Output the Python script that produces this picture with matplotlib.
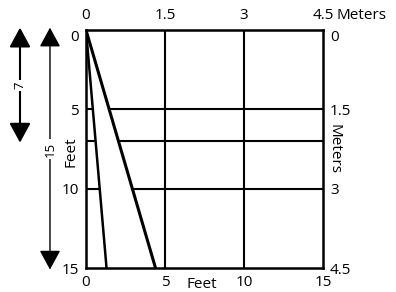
import matplotlib
matplotlib.use("Agg")
from matplotlib import pyplot as plt
from matplotlib.ticker import FixedLocator, FixedFormatter

plt.rcParams["font.family"] = ["Open Sans", "DejaVu Sans"]
plt.rcParams["font.size"] = 11

# depth/width scale in feet, with metre labels on the opposite sides
feet_ticks = [0, 5, 10, 15]
feet_labels = ["0", "5", "10", "15"]
meter_ticks = [0, 1.5, 3, 4.5]
meter_labels = ["0", "1.5", "3", "4.5"]
ft_per_m = 5 / 1.5

# two slope lines from the top-left corner down to 15 ft deep
depth = [0, 15]
thin_line_x = [0, 1.3]
thick_line_x = [0, 4.4]

# horizontal guide lines (feet), vertical guide lines (feet)
h_lines = [5, 7, 10]
v_lines = [5, 10]

# dimension arrows on the left: (label, depth in feet)
arrows = [("7", 7), ("15", 15)]
arrow_x = [-0.2785, -0.152]
arrow_lw = [1.5, 1.0]

fig = plt.figure(figsize=(3.96, 2.92), dpi=100)
ax = fig.add_axes([86 / 396, 24 / 292, 237 / 396, 238 / 292])
ax.set_xlim(0, 15)
ax.set_ylim(15, 0)

for s in ax.spines.values():
    s.set_linewidth(1.8)
    s.set_color("black")

# guide lines, broken between the two slope lines
thin_slope = thin_line_x[1] / depth[1]
thick_slope = thick_line_x[1] / depth[1]
for y in h_lines:
    ax.plot([0, thin_slope * y], [y, y], c="black", lw=1.5, solid_capstyle="butt")
    ax.plot([thick_slope * y, 15], [y, y], c="black", lw=1.5, solid_capstyle="butt")
ax.vlines(v_lines, 0, 15, colors="black", lw=1.5)

ax.plot(thin_line_x, depth, c="black", lw=1.8)
ax.plot(thick_line_x, depth, c="black", lw=2.2)

# feet on bottom and left
ax.set_xticks(feet_ticks, feet_labels)
ax.set_yticks(feet_ticks, feet_labels)
ax.tick_params(length=0, pad=5)
ax.get_yticklabels()[0].set_verticalalignment("top")

# metres on top and right
top = ax.secondary_xaxis("top", functions=(lambda x: x / ft_per_m, lambda m: m * ft_per_m))
top.xaxis.set_major_locator(FixedLocator(meter_ticks))
top.xaxis.set_major_formatter(FixedFormatter(meter_labels))
top.tick_params(length=0, pad=5)
top.spines["top"].set_visible(False)

right = ax.secondary_yaxis("right", functions=(lambda y: y / ft_per_m, lambda m: m * ft_per_m))
right.yaxis.set_major_locator(FixedLocator(meter_ticks))
right.yaxis.set_major_formatter(FixedFormatter(meter_labels))
right.tick_params(length=0, pad=5)
right.spines["right"].set_visible(False)
right.get_yticklabels()[0].set_verticalalignment("top")

ax.text(0.49, -0.068, "Feet", transform=ax.transAxes, ha="center", va="center")
ax.text(-0.063, 0.49, "Feet", transform=ax.transAxes, ha="center", va="center", rotation=90)
ax.text(1.047, 0.5, "Meters", transform=ax.transAxes, ha="center", va="center", rotation=-90)
ax.annotate("Meters", xy=(1.0, 1.0), xycoords="axes fraction", xytext=(10, 5),
            textcoords="offset points", ha="left", va="bottom")

# dimension arrows
trans = ax.get_yaxis_transform()
for (label, d), x, lw in zip(arrows, arrow_x, arrow_lw):
    ax.annotate("", xy=(x, -0.15), xytext=(x, d + 0.1), xycoords=trans, textcoords=trans,
                arrowprops=dict(arrowstyle="<|-|>,head_length=1.2,head_width=0.65",
                                color="black", lw=lw, shrinkA=0, shrinkB=0,
                                mutation_scale=10),
                annotation_clip=False)
    ax.text(x, d / 2, label, transform=trans, ha="center", va="center", rotation=90,
            fontsize=9.5, bbox=dict(facecolor="white", edgecolor="none", pad=1.5),
            clip_on=False)

fig.savefig("out.png", dpi=100)
